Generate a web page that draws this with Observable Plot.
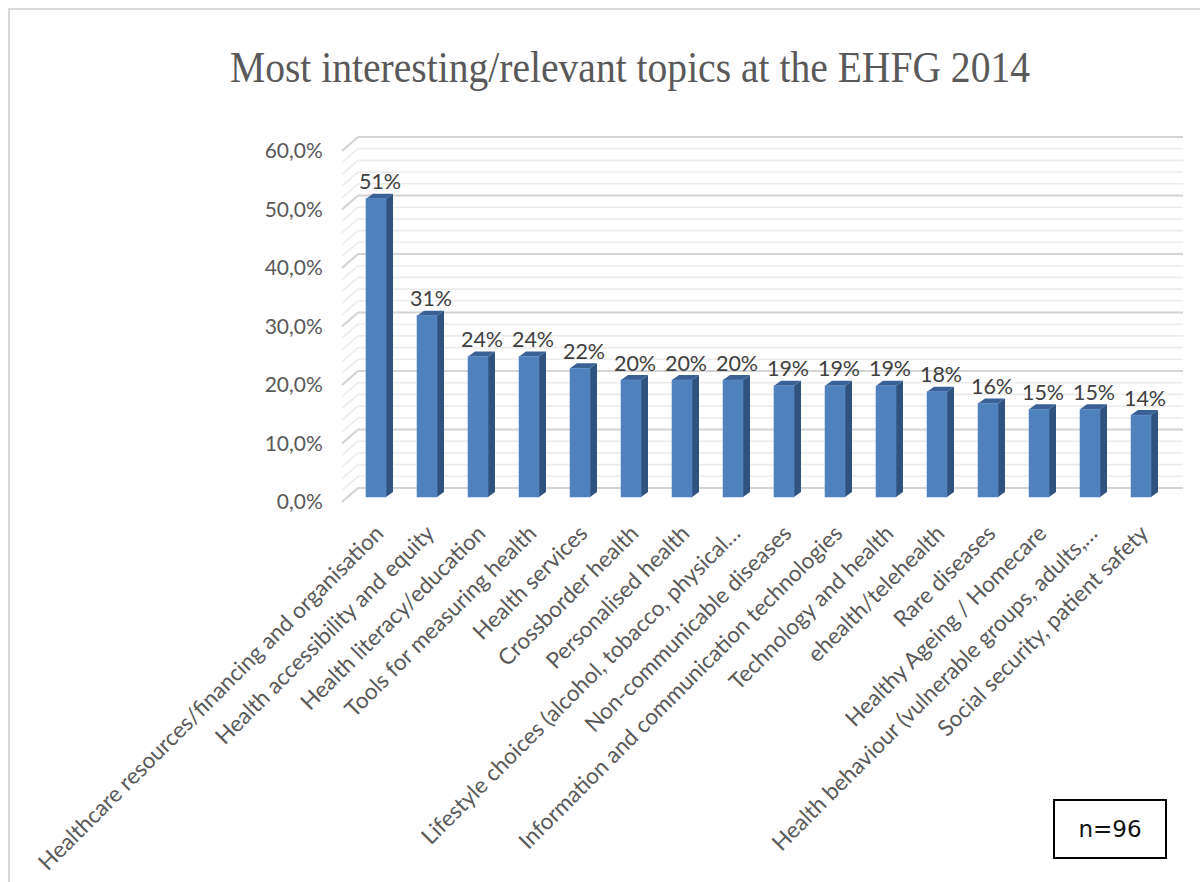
<!DOCTYPE html>
<html>
<head>
<meta charset="utf-8">
<script src="https://cdn.jsdelivr.net/npm/d3@7"></script>
<script src="https://cdn.jsdelivr.net/npm/@observablehq/plot@0.6"></script>
<style>
  html, body { margin: 0; padding: 0; background: #fff; }
  #wrap { position: relative; width: 1200px; height: 882px; overflow: hidden; background: #fff; }
  #frame { position: absolute; left: 8px; top: 8px; right: -4px; bottom: -4px; border-left: 2px solid #d9d9d9; border-top: 2px solid #d9d9d9; }
  #chart { position: absolute; left: 0; top: 0; }
  #title { position: absolute; left: 0; top: 0; }
  #nbox { position: absolute; left: 1053px; top: 799px; width: 110px; height: 56px; border: 2px solid #000;
          font-family: "DejaVu Sans", sans-serif; font-size: 23px; color: #111; display: flex; align-items: center; justify-content: center; box-sizing: content-box; }
</style>
</head>
<body>
<div id="wrap">
  <div id="frame"></div>
  <svg id="title" width="1200" height="120">
    <text x="630" y="82" text-anchor="middle" textLength="800" lengthAdjust="spacingAndGlyphs"
      font-family="Liberation Serif, serif" font-size="44" fill="#595959">Most interesting/relevant topics at the EHFG 2014</text>
  </svg>
  <div id="chart"></div>
  <div id="nbox">n=96</div>
</div>
<script>
const topics = [
  "Healthcare resources/financing and organisation",
  "Health accessibility and equity",
  "Health literacy/education",
  "Tools for measuring health",
  "Health services",
  "Crossborder health",
  "Personalised health",
  "Lifestyle choices (alcohol, tobacco, physical…",
  "Non-communicable diseases",
  "Information and communication technologies",
  "Technology and health",
  "ehealth/telehealth",
  "Rare diseases",
  "Healthy Ageing / Homecare",
  "Health behaviour (vulnerable groups, adults,…",
  "Social security, patient safety"
];
const shares = [51, 31, 24, 24, 22, 20, 20, 20, 19, 19, 19, 18, 16, 15, 15, 14];
const yTicks = [0, 10, 20, 30, 40, 50, 60];
const minorLines = [2, 4, 6, 8, 12, 14, 16, 18, 22, 24, 26, 28, 32, 34, 36, 38, 42, 44, 46, 48, 52, 54, 56, 58];

const data = topics.map((t, i) => ({topic: t, value: shares[i]}));

// styling constants (3D look)
const barDX = 7, barDY = -5;         // bar depth
const wallDX = 16, wallDY = -14;     // side wall depth
const wallFront = 5;                 // front edge of floor relative to bar plane
const FRONT = "#4f81bd", SIDE = "#30527f", TOP = "#3a6196";
const FONT = "Lato, 'Open Sans', sans-serif";

function wallLines(vals, color, width) {
  return Plot.ruleY(vals, {
    y: d => d,
    render: (index, scales, values, dims) => {
      const g = d3.create("svg:g");
      const x0 = dims.marginLeft - 5.3;
      const xR = dims.width - dims.marginRight + 13.3;
      for (const i of index) {
        const yy = scales.y(vals[i]);
        g.append("line")
          .attr("x1", x0).attr("y1", yy + wallFront)
          .attr("x2", x0 + wallDX).attr("y2", yy + wallFront + wallDY)
          .attr("stroke", color).attr("stroke-width", width);
        g.append("line")
          .attr("x1", x0 + wallDX).attr("y1", yy + wallFront + wallDY)
          .attr("x2", xR).attr("y2", yy + wallFront + wallDY)
          .attr("stroke", color).attr("stroke-width", width);
      }
      return g.node();
    }
  });
}

const bars3d = Plot.barY(data, {
  x: "topic", y: "value",
  render: (index, scales, values, dims) => {
    const g = d3.create("svg:g");
    const bw = scales.x.bandwidth();
    for (const i of index) {
      const d = data[i];
      const xl = scales.x(d.topic), xr = xl + bw;
      const yt = scales.y(d.value), yb = scales.y(0);
      g.append("polygon")
        .attr("points", [[xr, yb], [xr + barDX, yb + barDY], [xr + barDX, yt + barDY], [xr, yt]].map(p => p.join(",")).join(" "))
        .attr("fill", SIDE);
      g.append("polygon")
        .attr("points", [[xl, yt], [xl + barDX, yt + barDY], [xr + barDX, yt + barDY], [xr, yt]].map(p => p.join(",")).join(" "))
        .attr("fill", TOP);
      g.append("rect")
        .attr("x", xl).attr("y", yt).attr("width", bw).attr("height", yb - yt)
        .attr("fill", FRONT).attr("stroke", "#5a8ac6").attr("stroke-width", 0.6);
    }
    return g.node();
  }
});

const chart = Plot.plot({
  width: 1200,
  height: 882,
  marginLeft: 347.3,
  marginRight: 30.3,
  marginTop: 146,
  marginBottom: 385,
  style: {background: "transparent", overflow: "visible"},
  x: {type: "band", domain: topics, paddingInner: 0.61, paddingOuter: 0.305, axis: null},
  y: {domain: [0, 60], axis: null},
  marks: [
    wallLines(minorLines, "#ececec", 1.6),
    wallLines(yTicks, "#d4d4d4", 2.2),
    Plot.axisY({
      ticks: yTicks, tickSize: 0, tickPadding: 25, dy: 5,
      tickFormat: d => d.toFixed(1).replace(".", ",") + "%",
      label: null, fontSize: 21, fontFamily: FONT, color: "#595959"
    }),
    bars3d,
    Plot.text(data, {
      x: "topic", y: "value", text: d => d.value + "%",
      dx: barDX / 2, dy: -10, lineAnchor: "bottom",
      fontSize: 21.5, fontFamily: FONT, fill: "#404040"
    }),
    Plot.text(topics, {
      x: d => d, frameAnchor: "bottom", rotate: -45,
      textAnchor: "end", lineAnchor: "top", dx: -3, dy: 26,
      fontSize: 22.5, fontFamily: FONT, fill: "#595959"
    })
  ]
});
document.getElementById("chart").appendChild(chart);
</script>
</body>
</html>
